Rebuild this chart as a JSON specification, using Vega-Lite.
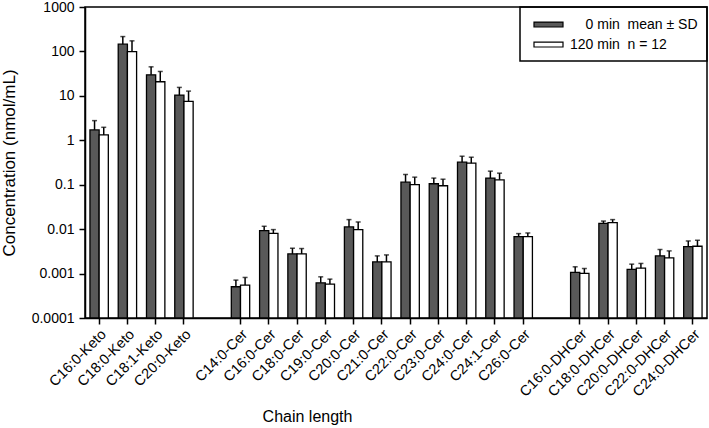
{
  "$schema": "https://vega.github.io/schema/vega-lite/v6.json",
  "width": 622,
  "height": 311,
  "autosize": {"type": "none"},
  "padding": {"left": 85, "top": 7, "right": 2, "bottom": 110},
  "config": {
    "font": "Liberation Sans",
    "view": {"stroke": "black", "strokeWidth": 1.5},
    "axis": {"grid": false, "domainColor": "black", "domainWidth": 1.5, "tickColor": "black", "tickWidth": 1.5, "tickSize": 6, "labelColor": "black", "titleColor": "black", "titleFontWeight": "normal"}
  },
  "data": {"values": [
    {"lipid": "C16:0-Keto", "time": "0 min", "mean": 1.71, "upper": 2.77},
    {"lipid": "C16:0-Keto", "time": "120 min", "mean": 1.32, "upper": 1.96},
    {"lipid": "C18:0-Keto", "time": "0 min", "mean": 146, "upper": 216},
    {"lipid": "C18:0-Keto", "time": "120 min", "mean": 99.5, "upper": 173},
    {"lipid": "C18:1-Keto", "time": "0 min", "mean": 29.8, "upper": 45},
    {"lipid": "C18:1-Keto", "time": "120 min", "mean": 20.8, "upper": 35.4},
    {"lipid": "C20:0-Keto", "time": "0 min", "mean": 10.4, "upper": 15.5},
    {"lipid": "C20:0-Keto", "time": "120 min", "mean": 7.5, "upper": 12.8},
    {"lipid": "C14:0-Cer", "time": "0 min", "mean": 0.000505, "upper": 0.000713},
    {"lipid": "C14:0-Cer", "time": "120 min", "mean": 0.00055, "upper": 0.000818},
    {"lipid": "C16:0-Cer", "time": "0 min", "mean": 0.00927, "upper": 0.0116},
    {"lipid": "C16:0-Cer", "time": "120 min", "mean": 0.00807, "upper": 0.00977},
    {"lipid": "C18:0-Cer", "time": "0 min", "mean": 0.00277, "upper": 0.00372},
    {"lipid": "C18:0-Cer", "time": "120 min", "mean": 0.00277, "upper": 0.00366},
    {"lipid": "C19:0-Cer", "time": "0 min", "mean": 0.00062, "upper": 0.000845},
    {"lipid": "C19:0-Cer", "time": "120 min", "mean": 0.00058, "upper": 0.00075},
    {"lipid": "C20:0-Cer", "time": "0 min", "mean": 0.0112, "upper": 0.0164},
    {"lipid": "C20:0-Cer", "time": "120 min", "mean": 0.00977, "upper": 0.0145},
    {"lipid": "C21:0-Cer", "time": "0 min", "mean": 0.00183, "upper": 0.0025},
    {"lipid": "C21:0-Cer", "time": "120 min", "mean": 0.00183, "upper": 0.00263},
    {"lipid": "C22:0-Cer", "time": "0 min", "mean": 0.114, "upper": 0.17},
    {"lipid": "C22:0-Cer", "time": "120 min", "mean": 0.1, "upper": 0.148},
    {"lipid": "C23:0-Cer", "time": "0 min", "mean": 0.105, "upper": 0.141},
    {"lipid": "C23:0-Cer", "time": "120 min", "mean": 0.0948, "upper": 0.133},
    {"lipid": "C24:0-Cer", "time": "0 min", "mean": 0.321, "upper": 0.438},
    {"lipid": "C24:0-Cer", "time": "120 min", "mean": 0.305, "upper": 0.416},
    {"lipid": "C24:1-Cer", "time": "0 min", "mean": 0.141, "upper": 0.202},
    {"lipid": "C24:1-Cer", "time": "120 min", "mean": 0.129, "upper": 0.182},
    {"lipid": "C26:0-Cer", "time": "0 min", "mean": 0.00681, "upper": 0.00794},
    {"lipid": "C26:0-Cer", "time": "120 min", "mean": 0.00681, "upper": 0.0082},
    {"lipid": "C16:0-DHCer", "time": "0 min", "mean": 0.00106, "upper": 0.00142},
    {"lipid": "C16:0-DHCer", "time": "120 min", "mean": 0.00101, "upper": 0.0013},
    {"lipid": "C18:0-DHCer", "time": "0 min", "mean": 0.0135, "upper": 0.0152},
    {"lipid": "C18:0-DHCer", "time": "120 min", "mean": 0.014, "upper": 0.0164},
    {"lipid": "C20:0-DHCer", "time": "0 min", "mean": 0.00124, "upper": 0.00163},
    {"lipid": "C20:0-DHCer", "time": "120 min", "mean": 0.00132, "upper": 0.00169},
    {"lipid": "C22:0-DHCer", "time": "0 min", "mean": 0.0025, "upper": 0.00348},
    {"lipid": "C22:0-DHCer", "time": "120 min", "mean": 0.00225, "upper": 0.00324},
    {"lipid": "C24:0-DHCer", "time": "0 min", "mean": 0.00406, "upper": 0.00542},
    {"lipid": "C24:0-DHCer", "time": "120 min", "mean": 0.00412, "upper": 0.00562}
  ]},
  "encoding": {
    "x": {
      "field": "lipid", "type": "nominal",
      "scale": {"domain": ["C16:0-Keto","C18:0-Keto","C18:1-Keto","C20:0-Keto"," ","C14:0-Cer","C16:0-Cer","C18:0-Cer","C19:0-Cer","C20:0-Cer","C21:0-Cer","C22:0-Cer","C23:0-Cer","C24:0-Cer","C24:1-Cer","C26:0-Cer","  ","C16:0-DHCer","C18:0-DHCer","C20:0-DHCer","C22:0-DHCer","C24:0-DHCer"], "paddingInner": 0.35, "paddingOuter": 0.175},
      "axis": {
        "values": ["C16:0-Keto","C18:0-Keto","C18:1-Keto","C20:0-Keto","C14:0-Cer","C16:0-Cer","C18:0-Cer","C19:0-Cer","C20:0-Cer","C21:0-Cer","C22:0-Cer","C23:0-Cer","C24:0-Cer","C24:1-Cer","C26:0-Cer","C16:0-DHCer","C18:0-DHCer","C20:0-DHCer","C22:0-DHCer","C24:0-DHCer"],
        "title": "Chain length", "labelAngle": -45, "labelFontSize": 14.5, "labelPadding": 3,
        "titleFontSize": 16, "titleX": 222, "titleY": 103, "titleBaseline": "alphabetic"
      }
    },
    "xOffset": {"field": "time", "type": "nominal", "scale": {"domain": ["0 min", "120 min"], "paddingInner": 0, "paddingOuter": 0}}
  },
  "layer": [
    {
      "mark": {"type": "bar", "stroke": "black", "strokeWidth": 1.3},
      "encoding": {
        "y": {
          "field": "mean", "type": "quantitative",
          "scale": {"type": "log", "domain": [0.0001, 1000], "nice": false},
          "axis": {"values": [0.0001, 0.001, 0.01, 0.1, 1, 10, 100, 1000], "format": "~g", "labelFontSize": 14, "labelPadding": 5, "title": "Concentration  (nmol/mL)", "titleFontSize": 17, "titlePadding": 13}
        },
        "y2": {"datum": 0.0001},
        "fill": {
          "field": "time", "type": "nominal",
          "scale": {"domain": ["0 min", "120 min"], "range": ["#595959", "#ffffff"]},
          "legend": {
            "title": null, "orient": "top-right", "offset": 0, "strokeColor": "black",
            "padding": 9, "rowPadding": 4, "labelFontSize": 14, "labelColor": "black", "labelOffset": 24,
            "symbolType": "M-0.467,-0.33H3.4V0.33H-0.467Z", "symbolSize": 225, "symbolStrokeColor": "black", "symbolStrokeWidth": 1.2,
            "labelExpr": "datum.label == '0 min' ? '\u200d\u00a0\u00a0\u00a0\u00a00 min\u00a0\u00a0mean ± SD' : '120 min\u00a0\u00a0n = 12'",
            "encode": {"legend": {"update": {"strokeWidth": {"value": 1.5}}}}
          }
        }
      }
    },
    {
      "mark": {"type": "rule", "color": "black", "strokeWidth": 1.5},
      "encoding": {"y": {"field": "mean", "type": "quantitative"}, "y2": {"field": "upper"}}
    },
    {
      "mark": {"type": "tick", "color": "black", "size": 5, "thickness": 1.5},
      "encoding": {"y": {"field": "upper", "type": "quantitative"}}
    }
  ]
}
